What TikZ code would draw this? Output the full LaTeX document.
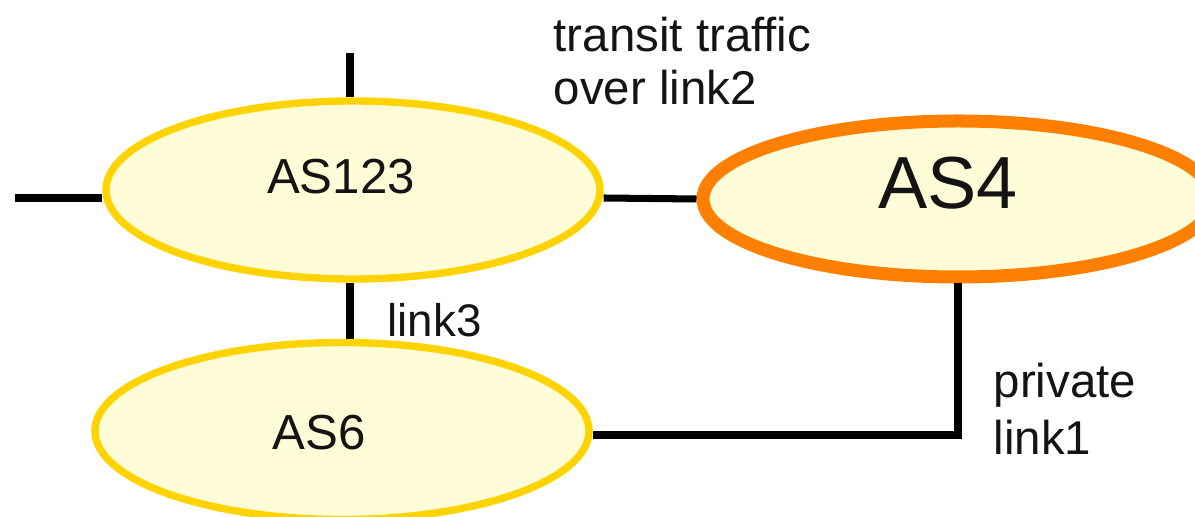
\documentclass[tikz,border=0pt]{standalone}
\usepackage{fontspec}
\setmainfont{Liberation Sans}
\usepackage{xcolor}
\usetikzlibrary{shapes.geometric}
\definecolor{asYellow}{RGB}{255, 211, 0}
\definecolor{asOrange}{RGB}{255, 127, 0}
\definecolor{asFill}{RGB}{255, 253, 215}
\definecolor{asText}{RGB}{20, 20, 20}

\begin{document}
\begin{tikzpicture}[
    asnode/.style={ellipse, draw=asYellow, fill=asFill, line width=2.1pt, minimum width=4.94cm, minimum height=1.78cm, inner sep=0pt},
    link/.style={line width=2pt, black},
    lbl/.style={text=asText, inner sep=0pt, align=left}
  ]
  \useasboundingbox (0,0) rectangle (11.95,5.17);
  \clip (0,0) rectangle (11.95,5.17);

  % AS123
  \node[asnode, label={[anchor=base, text=asText, font=\fontsize{14}{16}\selectfont, xshift=-0.12cm, yshift=0.13cm]center:AS123}] (as123) at (3.53,3.27) {};

  % AS4
  \node[asnode, draw=asOrange, line width=3.7pt, minimum width=5.10cm, minimum height=1.56cm, label={[anchor=base, text=asText, font=\fontsize{21}{24}\selectfont, xshift=-0.10cm, yshift=0.16cm]center:AS4}] (as4) at (9.58,3.18) {};

  % AS6
  \node[asnode, minimum height=1.77cm, label={[anchor=base, text=asText, font=\fontsize{14}{16}\selectfont, xshift=-0.23cm, yshift=-0.02cm]center:AS6}] (as6) at (3.42,0.86) {};

  % stubs
  \coordinate (west) at (0.15,3.19);
  \coordinate (up) at (3.50,4.64);
  \draw[link] (west) -- (west -| as123.west);
  \draw[link] (up) -- (up |- as123.north);

  % links
  \draw[link] ([yshift=-0.08cm]as123.east) -- (as4.west);
  \draw[link] (up |- as123.south) -- (up |- as6.north);
  \draw[link] (as4.south) |- ([yshift=-0.04cm]as6.east);

  % labels
  \node[lbl, anchor=base west, font=\fontsize{13.5}{15.2}\selectfont] (transit) at (5.53,4.12) {transit traffic\\over link2};
  \node[lbl, anchor=base west, font=\fontsize{13}{15}\selectfont] (link3) at (3.87,1.80) {link3};
  \node[lbl, anchor=base west, font=\fontsize{13.5}{16.4}\selectfont] (link1) at (9.93,0.62) {private\\link1};
\end{tikzpicture}
\end{document}
